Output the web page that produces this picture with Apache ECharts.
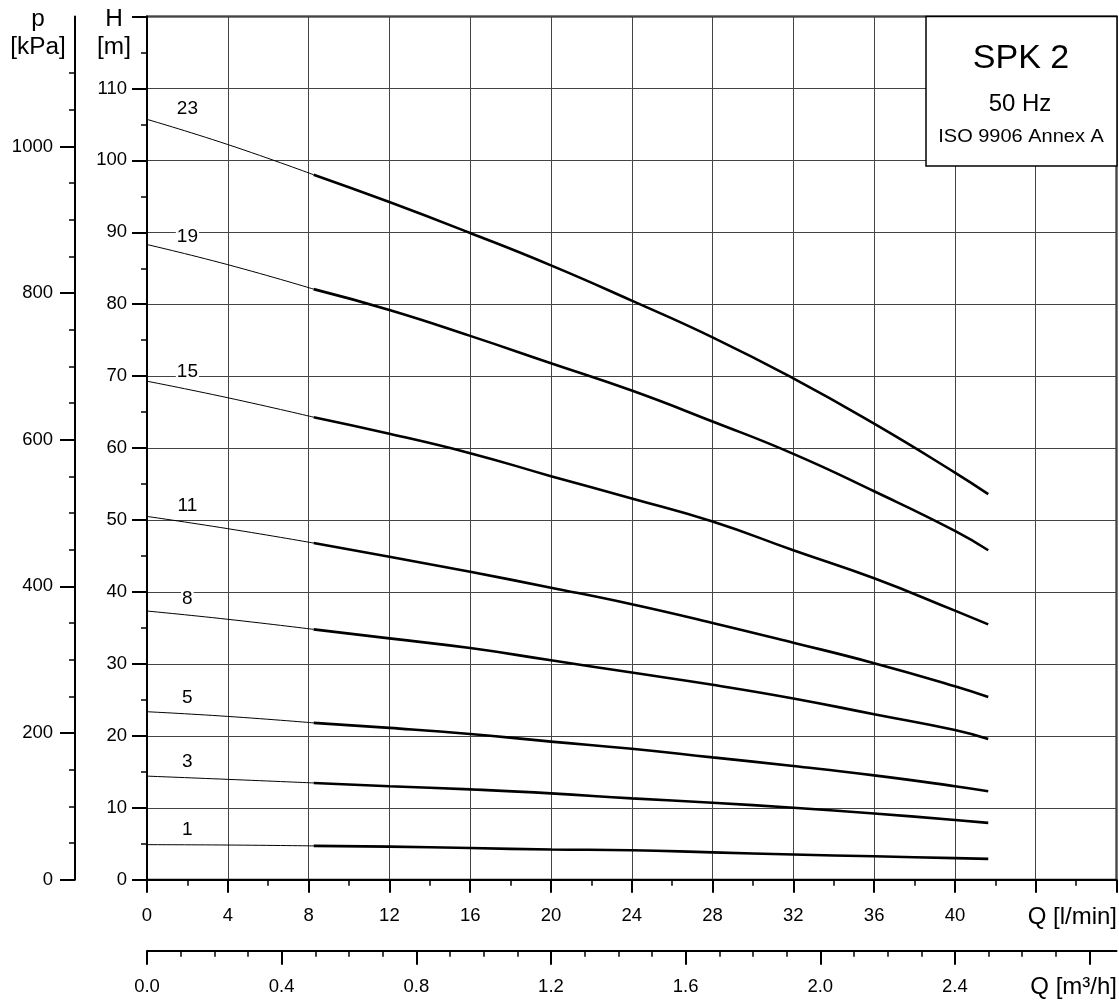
<!DOCTYPE html>
<html><head><meta charset="utf-8">
<script src="https://cdn.jsdelivr.net/npm/echarts@6/dist/echarts.min.js"></script>
<style>html,body{margin:0;padding:0;background:#fff}#c{width:1119px;height:1000px}</style>
</head><body><div id="c"></div>
<script>
// ---- data ----
const qThin  = [0, 4, 8.25];
const qThick = [8.25, 12, 16, 20, 24, 28, 32, 36, 40, 41.65];

const h23Thin  = [105.7, 102.2, 98.0];
const h23Thick = [98.0, 94.2, 89.9, 85.4, 80.5, 75.4, 69.7, 63.4, 56.6, 53.6];
const h19Thin  = [88.3, 85.5, 82.1];
const h19Thick = [82.1, 79.2, 75.6, 71.8, 68.0, 63.7, 59.2, 54.0, 48.5, 45.8];
const h15Thin  = [69.3, 67.0, 64.3];
const h15Thick = [64.3, 62.0, 59.3, 56.1, 53.0, 49.8, 45.8, 41.9, 37.4, 35.5];
const h11Thin  = [50.5, 48.8, 46.8];
const h11Thick = [46.8, 44.9, 42.8, 40.6, 38.3, 35.7, 32.95, 30.1, 26.9, 25.4];
const h8Thin   = [37.35, 36.2, 34.8];
const h8Thick  = [34.8, 33.55, 32.2, 30.5, 28.8, 27.1, 25.2, 23.0, 20.8, 19.55];
const h5Thin   = [23.35, 22.7, 21.8];
const h5Thick  = [21.8, 21.1, 20.25, 19.2, 18.2, 17.0, 15.8, 14.5, 13.0, 12.3];
const h3Thin   = [14.4, 13.95, 13.45];
const h3Thick  = [13.45, 13.0, 12.55, 12.0, 11.3, 10.7, 10.0, 9.2, 8.3, 7.9];
const h1Thin   = [4.87, 4.82, 4.7];
const h1Thick  = [4.7, 4.6, 4.4, 4.2, 4.1, 3.8, 3.5, 3.25, 3.0, 2.9];

const stageNames = ['23', '19', '15', '11', '8', '5', '3', '1'];
const labelQ = 2;
const labelH = [107.2, 89.4, 70.6, 52.0, 39.0, 25.3, 16.35, 6.9];

// ---- tick labels ----
const qTicks     = [0, 4, 8, 12, 16, 20, 24, 28, 32, 36, 40];
const m3hTicks   = [0.0, 0.4, 0.8, 1.2, 1.6, 2.0, 2.4];
const m3hMajor   = [0.0, 0.4, 0.8, 1.2, 1.6, 2.0, 2.4, 2.8];
const m3hMinor   = [0.1,0.2,0.3,0.5,0.6,0.7,0.9,1.0,1.1,1.3,1.4,1.5,1.7,1.8,1.9,2.1,2.2,2.3,2.5,2.6,2.7];
const hTicks     = [0, 10, 20, 30, 40, 50, 60, 70, 80, 90, 100, 110];
const pTicks     = [0, 200, 400, 600, 800, 1000];
const pMinor     = [50,100,150,250,300,350,450,500,550,650,700,750,850,900,950,1050,1100];

const Q_MAX = 48, H_MAX = 120;
const M3H_PER_LMIN = 0.06, KPA_PER_M = 9.81;

const FONT = "'Liberation Sans', Arial, sans-serif";
const curves = [
  [h23Thin, h23Thick], [h19Thin, h19Thick], [h15Thin, h15Thick], [h11Thin, h11Thick],
  [h8Thin, h8Thick], [h5Thin, h5Thick], [h3Thin, h3Thick], [h1Thin, h1Thick]
];

const series = [];
curves.forEach(([thin, thick]) => {
  series.push({
    type: 'line', xAxisIndex: 0, yAxisIndex: 0, silent: true,
    data: qThin.map((q, i) => [q, thin[i]]),
    smooth: 0.5, showSymbol: false, symbol: 'none',
    lineStyle: { color: '#000', width: 1 }, z: 5
  });
  series.push({
    type: 'line', xAxisIndex: 0, yAxisIndex: 0, silent: true,
    data: qThick.map((q, i) => [q, thick[i]]),
    smooth: 0.5, showSymbol: false, symbol: 'none',
    lineStyle: { color: '#000', width: 2.6, cap: 'butt' }, z: 5
  });
});
series.push({
  type: 'scatter', xAxisIndex: 0, yAxisIndex: 0, silent: true,
  symbolSize: 0, itemStyle: { color: '#000' }, z: 6,
  data: labelH.map((h, i) => ({ value: [labelQ, h], name: stageNames[i] })),
  label: {
    show: true, position: 'inside', formatter: p => p.name, opacity: 1,
    color: '#000', fontSize: 19, fontFamily: FONT, textBorderWidth: 0,
    backgroundColor: '#fff', padding: [0, 1]
  }
});

const axisBlack = { onZero: false, lineStyle: { color: '#000', width: 2 } };
const labelStyle = { color: '#000', fontSize: 18.5, fontFamily: FONT, formatter: v => String(v) };

const option = {
  animation: false,
  backgroundColor: '#fff',
  grid: { left: 147, right: 2.5, top: 16.5, bottom: 120.3, show: true,
          borderColor: '#000', borderWidth: 2, backgroundColor: 'transparent' },
  xAxis: [
    { type: 'value', min: 0, max: Q_MAX, interval: 4, position: 'bottom',
      axisLine: axisBlack,
      axisTick: { length: 13, lineStyle: { color: '#000', width: 2 } },
      minorTick: { show: true, splitNumber: 2, length: 6, lineStyle: { color: '#000', width: 1.5 } },
      axisLabel: Object.assign({}, labelStyle, { customValues: qTicks, margin: 27 }),
      splitLine: { show: true, lineStyle: { color: '#444', width: 1 } } },
    { type: 'value', min: 0, max: Q_MAX * M3H_PER_LMIN, position: 'bottom', offset: 71,
      axisLine: axisBlack,
      axisTick: { customValues: m3hMajor, length: 14, lineStyle: { color: '#000', width: 2 } },
      axisLabel: Object.assign({}, labelStyle, { customValues: m3hTicks, margin: 27, formatter: v => v.toFixed(1) }),
      splitLine: { show: false } },
    { type: 'value', min: 0, max: Q_MAX * M3H_PER_LMIN, position: 'bottom', offset: 71,
      axisLine: { show: false, onZero: false },
      axisTick: { customValues: m3hMinor, length: 6, lineStyle: { color: '#000', width: 1.5 } },
      axisLabel: { show: false }, splitLine: { show: false } }
  ],
  yAxis: [
    { type: 'value', min: 0, max: H_MAX, interval: 10, position: 'left',
      axisLine: axisBlack,
      axisTick: { length: 15, lineStyle: { color: '#000', width: 2 } },
      minorTick: { show: true, splitNumber: 2, length: 6, lineStyle: { color: '#000', width: 1.5 } },
      axisLabel: Object.assign({}, labelStyle, { customValues: hTicks, margin: 20 }),
      splitLine: { show: true, lineStyle: { color: '#444', width: 1 } } },
    { type: 'value', min: 0, max: H_MAX * KPA_PER_M, position: 'left', offset: 72,
      axisLine: axisBlack,
      axisTick: { customValues: pTicks, length: 15, lineStyle: { color: '#000', width: 2 } },
      axisLabel: Object.assign({}, labelStyle, { customValues: pTicks, margin: 22 }),
      splitLine: { show: false } },
    { type: 'value', min: 0, max: H_MAX * KPA_PER_M, position: 'left', offset: 72,
      axisLine: { show: false, onZero: false },
      axisTick: { customValues: pMinor, length: 6, lineStyle: { color: '#000', width: 1.5 } },
      axisLabel: { show: false }, splitLine: { show: false } }
  ],
  series: series,
  graphic: [
    { type: 'rect', z: 100, shape: { x: 926, y: 16.5, width: 191, height: 149.5 },
      style: { fill: '#fff', stroke: '#000', lineWidth: 1.5 } },
    { type: 'text', z: 101, x: 1021, y: 59, style: { text: 'SPK 2', fontSize: 34, fontFamily: FONT, fill: '#000', align: 'center', verticalAlign: 'middle' } },
    { type: 'text', z: 101, x: 1020, y: 104.5, style: { text: '50 Hz', fontSize: 24, fontFamily: FONT, fill: '#000', align: 'center', verticalAlign: 'middle' } },
    { type: 'text', z: 101, x: 1021, y: 137, scaleX: 1.08, style: { text: 'ISO 9906 Annex A', fontSize: 18.5, fontFamily: FONT, fill: '#000', align: 'center', verticalAlign: 'middle' } },
    { type: 'text', z: 101, x: 38, y: 20, scaleX: 1.06, style: { text: 'p', fontSize: 23, fontFamily: FONT, fill: '#000', align: 'center', verticalAlign: 'middle' } },
    { type: 'text', z: 101, x: 38, y: 48, scaleX: 1.06, style: { text: '[kPa]', fontSize: 23, fontFamily: FONT, fill: '#000', align: 'center', verticalAlign: 'middle' } },
    { type: 'text', z: 101, x: 114, y: 20, scaleX: 1.06, style: { text: 'H', fontSize: 23, fontFamily: FONT, fill: '#000', align: 'center', verticalAlign: 'middle' } },
    { type: 'text', z: 101, x: 114, y: 48, scaleX: 1.06, style: { text: '[m]', fontSize: 23, fontFamily: FONT, fill: '#000', align: 'center', verticalAlign: 'middle' } },
    { type: 'text', z: 101, x: 1117, y: 917, style: { text: 'Q [l/min]', fontSize: 24, fontFamily: FONT, fill: '#000', align: 'right', verticalAlign: 'middle' } },
    { type: 'text', z: 101, x: 1117, y: 987, style: { text: 'Q [m³/h]', fontSize: 24, fontFamily: FONT, fill: '#000', align: 'right', verticalAlign: 'middle' } }
  ]
};

const chart = echarts.init(document.getElementById('c'), null, { renderer: 'canvas' });
chart.setOption(option);
</script>
</body></html>
